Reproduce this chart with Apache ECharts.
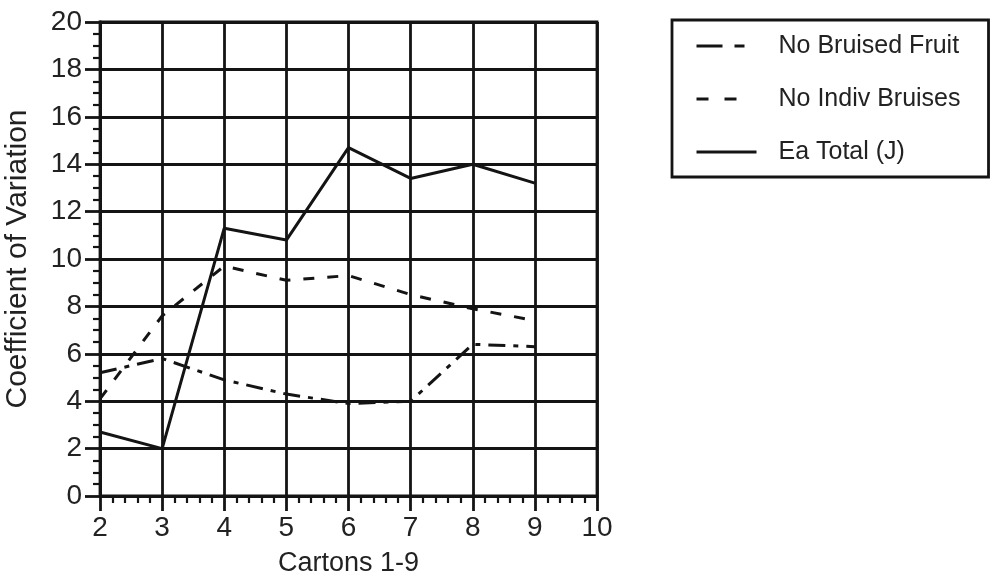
<!DOCTYPE html>
<html>
<head>
<meta charset="utf-8">
<script src="https://cdn.jsdelivr.net/npm/echarts@6/dist/echarts.min.js"></script>
<style>
html,body{margin:0;padding:0;background:#fff;}
#chart{width:994px;height:579px;}
</style>
</head>
<body>
<div id="chart"></div>
<script>
const cartons = [2, 3, 4, 5, 6, 7, 8, 9];
const noBruisedFruit = [5.2, 5.8, 4.9, 4.3, 3.9, 4.0, 6.4, 6.3];
const noIndivBruises = [4.1, 7.6, 9.7, 9.1, 9.3, 8.5, 7.9, 7.4];
const eaTotal = [2.7, 2.0, 11.3, 10.8, 14.7, 13.4, 14.0, 13.2];
const seriesNames = ['No Bruised Fruit', 'No Indiv Bruises', 'Ea Total (J)'];
const xTicks = [2, 3, 4, 5, 6, 7, 8, 9, 10];
const yTicks = [0, 2, 4, 6, 8, 10, 12, 14, 16, 18, 20];

const ink = '#141414';
const font = 'Liberation Sans, Arial, Helvetica, sans-serif';
const pair = arr => cartons.map((c, i) => [c, arr[i]]);
const legendDashes = [[26, 12, 10, 100], [12, 16, 12, 100], 'solid'];

const chart = echarts.init(document.getElementById('chart'));
chart.setOption({
  backgroundColor: '#ffffff',
  animation: false,
  grid: { left: 100, right: 397, top: 22, bottom: 83, show: true, borderColor: ink, borderWidth: 2.8,
          containLabel: false, outerBoundsMode: 'none' },
  legend: {
    orient: 'vertical',
    left: 672, top: 20,
    data: seriesNames.map((n, i) => ({ name: n, lineStyle: { type: legendDashes[i], width: 3 } })),
    itemWidth: 60, itemHeight: 26, itemGap: 27,
    padding: [13, 28, 12, 23],
    borderColor: ink, borderWidth: 2.8,
    itemStyle: { opacity: 0 },
    textStyle: { fontFamily: font, fontSize: 25, lineHeight: 26, color: '#222', padding: [0, 0, 0, 17] }
  },
  xAxis: {
    type: 'value', min: xTicks[0], max: xTicks[xTicks.length - 1], interval: 1,
    name: 'Cartons 1-9', nameLocation: 'middle', nameGap: 54,
    nameTextStyle: { fontFamily: font, fontSize: 27, color: '#222' },
    axisLine: { show: true, lineStyle: { color: ink, width: 2.8 } },
    axisTick: { show: true, inside: false, length: 15, lineStyle: { color: ink, width: 2.8 } },
    minorTick: { show: true, splitNumber: 5, length: 7, lineStyle: { color: ink, width: 2.2 } },
    splitLine: { show: true, lineStyle: { color: ink, width: 2.8 } },
    axisLabel: { fontFamily: font, fontSize: 28, color: '#222', margin: 18 }
  },
  yAxis: {
    type: 'value', min: yTicks[0], max: yTicks[yTicks.length - 1], interval: 2,
    name: 'Coefficient of Variation', nameLocation: 'middle', nameGap: 67, nameRotate: 90,
    nameTextStyle: { fontFamily: font, fontSize: 30, color: '#222' },
    axisLine: { show: true, lineStyle: { color: ink, width: 2.8 } },
    axisTick: { show: true, inside: false, length: 15, lineStyle: { color: ink, width: 2.8 } },
    minorTick: { show: true, splitNumber: 4, length: 7, lineStyle: { color: ink, width: 2.2 } },
    splitLine: { show: true, lineStyle: { color: ink, width: 2.8 } },
    axisLabel: { fontFamily: font, fontSize: 28, color: '#222', margin: 18 }
  },
  series: [
    { name: seriesNames[0], type: 'line', data: pair(noBruisedFruit), symbol: 'none',
      lineStyle: { color: ink, width: 3, type: [17, 8, 5, 8] }, itemStyle: { color: ink } },
    { name: seriesNames[1], type: 'line', data: pair(noIndivBruises), symbol: 'none',
      lineStyle: { color: ink, width: 3, type: [11, 13] }, itemStyle: { color: ink } },
    { name: seriesNames[2], type: 'line', data: pair(eaTotal), symbol: 'none',
      lineStyle: { color: ink, width: 3, type: 'solid' }, itemStyle: { color: ink } }
  ]
});
</script>
</body>
</html>
